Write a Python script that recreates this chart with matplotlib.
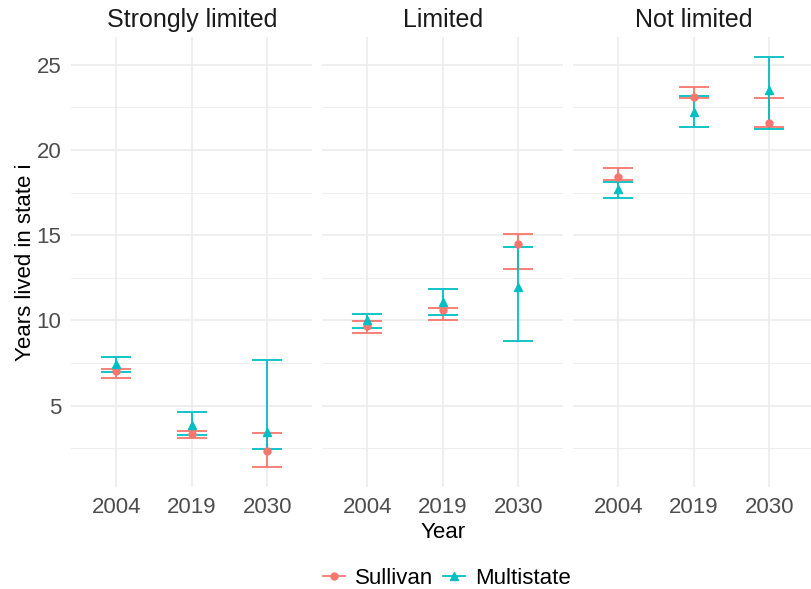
import numpy as np
import matplotlib.pyplot as plt
from matplotlib.lines import Line2D

plt.rcParams['font.family'] = ['Liberation Sans', 'DejaVu Sans']

# data
states = ['Strongly limited', 'Limited', 'Not limited']
years = ['2004', '2019', '2030']

sullivan_est = [[7.00, 3.34, 2.31], [9.66, 10.63, 14.49], [18.41, 23.11, 21.57]]
sullivan_lo = [[6.62, 3.07, 1.42], [9.27, 10.05, 13.00], [18.22, 23.05, 21.33]]
sullivan_hi = [[7.16, 3.50, 3.36], [9.95, 10.73, 15.06], [18.94, 23.71, 23.05]]

multi_est = [[7.45, 3.85, 3.46], [10.03, 11.08, 11.98], [17.69, 22.25, 23.52]]
multi_lo = [[6.97, 3.26, 2.45], [9.56, 10.32, 8.78], [17.20, 21.37, 21.24]]
multi_hi = [[7.83, 4.61, 7.69], [10.38, 11.84, 14.30], [18.14, 23.17, 25.43]]

red = '#F8766D'
cyan = '#00BFC4'

series = [
    ('Sullivan', sullivan_est, sullivan_lo, sullivan_hi, red, 'o', 5),
    ('Multistate', multi_est, multi_lo, multi_hi, cyan, '^', 5.8),
]

# y range like ggplot: data range plus 5%
all_vals = np.array(sullivan_lo + sullivan_hi + multi_lo + multi_hi)
lo, hi = all_vals.min(), all_vals.max()
pad = (hi - lo) * 0.05
ylim = (lo - pad, hi + pad)

fig = plt.figure(figsize=(8.12, 5.89), dpi=100)

W, H = 812, 589
left0, pw, step = 71, 241.5, 251
top, bottom = 37, 487

x = np.arange(1, len(years) + 1)
axes = []
for i, st in enumerate(states):
    ax = fig.add_axes([(left0 + i * step) / W, 1 - bottom / H, pw / W, (bottom - top) / H])
    axes.append(ax)
    for name, est, elo, ehi, col, mk, ms in series:
        e = np.array(est[i])
        yerr = [e - np.array(elo[i]), np.array(ehi[i]) - e]
        ax.errorbar(x, e, yerr=yerr, fmt='none', ecolor=col, elinewidth=1.3,
                    capsize=10.8, capthick=1.3, zorder=3)
    for name, est, elo, ehi, col, mk, ms in series:
        ax.plot(x, est[i], linestyle='none', marker=mk, color=col, markersize=ms, zorder=4)

    ax.set_xlim(0.4, 3.6)
    ax.set_ylim(*ylim)
    ax.set_xticks(x)
    ax.set_xticklabels(years)
    ax.set_yticks([5, 10, 15, 20, 25])
    ax.set_yticks([2.5, 7.5, 12.5, 17.5, 22.5], minor=True)
    ax.grid(True, which='major', color='#EBEBEB', linewidth=1.1, zorder=0)
    ax.grid(True, which='minor', axis='y', color='#EBEBEB', linewidth=0.6, zorder=0)
    ax.set_axisbelow(True)
    for s in ax.spines.values():
        s.set_visible(False)
    ax.tick_params(axis='both', which='both', length=0, labelsize=16, colors='#4D4D4D', pad=7)
    ax.set_title(st, fontsize=18, color='#1A1A1A', pad=7)
    if i > 0:
        ax.tick_params(axis='y', labelleft=False)

axes[0].set_ylabel('Years lived in state i', fontsize=16, color='black', labelpad=0)
axes[1].set_xlabel('Year', fontsize=16, color='black', labelpad=3)

handles = [
    Line2D([0], [0], color=red, marker='o', markersize=5, linewidth=1.3),
    Line2D([0], [0], color=cyan, marker='^', markersize=5.8, linewidth=1.3),
]
fig.legend(handles, ['Sullivan', 'Multistate'], loc='center', bbox_to_anchor=(447 / W, 1 - 578 / H),
           ncol=2, frameon=False, fontsize=16, handlelength=1.0, handletextpad=0.45,
           columnspacing=0.45)

fig.savefig('out.png', dpi=100)
